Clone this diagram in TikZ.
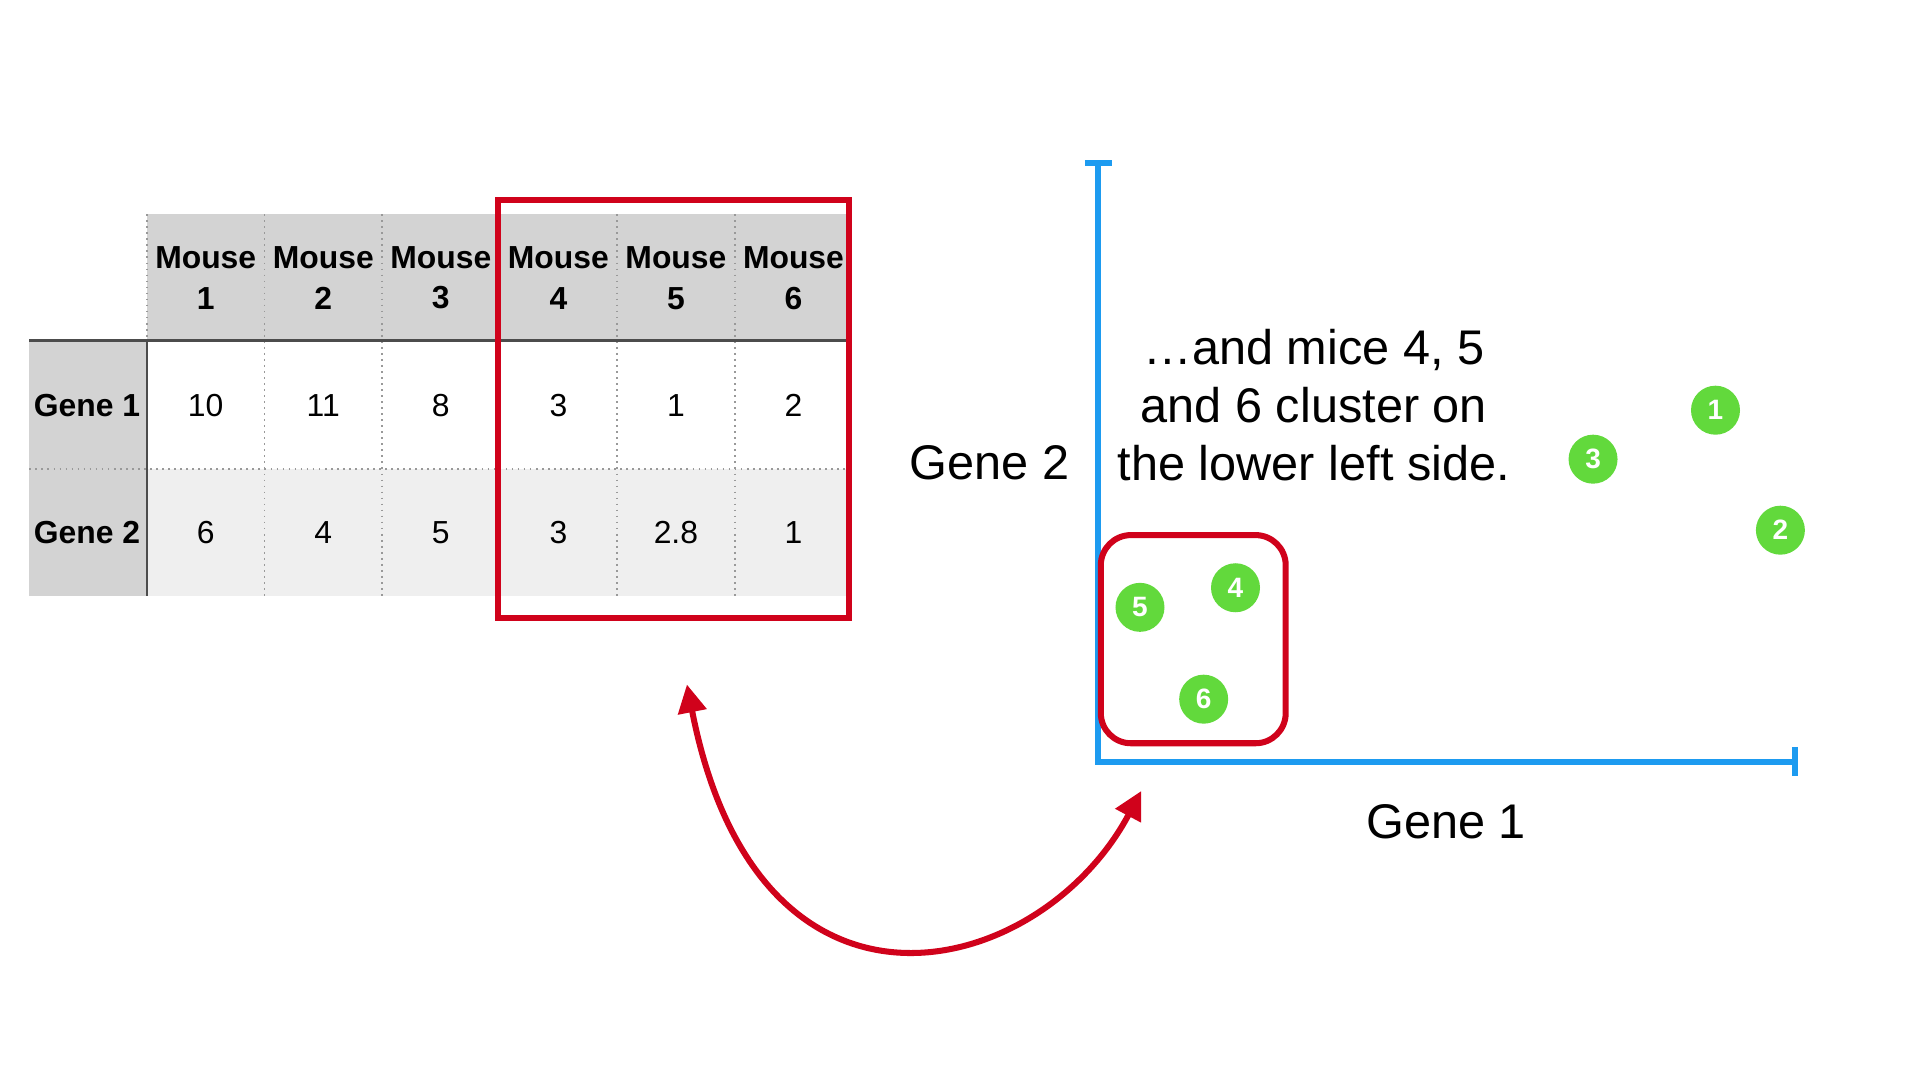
\documentclass[tikz,border=0pt]{standalone}
\usepackage{fontspec}
\setmainfont{Liberation Sans}
\usetikzlibrary{arrows.meta}
\definecolor{cellgray}{RGB}{211,211,211}
\definecolor{rowgray}{RGB}{239,239,239}
\definecolor{boxred}{RGB}{208,2,27}
\definecolor{axisblue}{RGB}{29,155,240}
\definecolor{dotgreen}{RGB}{98,217,60}
\begin{document}
\begin{tikzpicture}[x=0.01cm, y=-0.01cm,
  head/.style={font=\fontsize{7.4}{9.4}\selectfont\bfseries, align=center, inner sep=0pt},
  rowname/.style={font=\fontsize{7.4}{9}\selectfont\bfseries, inner sep=0pt},
  cell/.style={font=\fontsize{7.4}{9}\selectfont, inner sep=0pt},
  cellline/.style={gray!80, line width=0.4pt, densely dotted},
  rule/.style={black!70, line width=0.6pt},
  redbox/.style={boxred, line width=1.4pt},
  axis/.style={axisblue, line width=1.4pt},
  note/.style={font=\fontsize{11.3}{13.4}\selectfont, align=center, inner sep=0pt},
  mousedot/.style={circle, fill=dotgreen, minimum size=0.4cm, inner sep=0pt, text=white, font=\fontsize{6.5}{7}\selectfont\bfseries},
  linkarrow/.style={boxred, line width=1.4pt, {Triangle[length=6.5pt,width=6.5pt]}-{Triangle[length=6.5pt,width=6.5pt]}}
]
\useasboundingbox (0,0) rectangle (1568,882);

% Table of expression values
\fill[cellgray] (120,175) rectangle (692,278);
\fill[cellgray] (24,278) rectangle (120,487);
\fill[rowgray] (120,383) rectangle (692,487);
\draw[cellline] (120,175) -- (120,278);
\draw[cellline] (216,175) -- (216,487);
\draw[cellline] (312,175) -- (312,487);
\draw[cellline] (408,175) -- (408,487);
\draw[cellline] (504,175) -- (504,487);
\draw[cellline] (600,175) -- (600,487);
\draw[cellline] (24,383) -- (692,383);
\draw[rule] (24,278) -- (692,278);
\draw[rule] (120,278) -- (120,487);

\node[head] (m1) at (168,227) {Mouse\\1};
\node[head] (m2) at (264,227) {Mouse\\2};
\node[head] (m3) at (360,227) {Mouse\\3};
\node[head] (m4) at (456,227) {Mouse\\4};
\node[head] (m5) at (552,227) {Mouse\\5};
\node[head] (m6) at (648,227) {Mouse\\6};

\node[rowname] (g1) at (71,331) {Gene 1};
\node[cell] (v11) at (168,331) {10};
\node[cell] (v12) at (264,331) {11};
\node[cell] (v13) at (360,331) {8};
\node[cell] (v14) at (456,331) {3};
\node[cell] (v15) at (552,331) {1};
\node[cell] (v16) at (648,331) {2};

\node[rowname] (g2) at (71,435) {Gene 2};
\node[cell] (v21) at (168,435) {6};
\node[cell] (v22) at (264,435) {4};
\node[cell] (v23) at (360,435) {5};
\node[cell] (v24) at (456,435) {3};
\node[cell] (v25) at (552,435) {2.8};
\node[cell] (v26) at (648,435) {1};

\draw[redbox] (407,163) rectangle (693,505);

% Plot of the two genes
\coordinate (ytop) at (897,133);
\coordinate (origin) at (897,622);
\coordinate (xend) at (1466,622);
\draw[axis] (ytop) -- (origin) -- (xend);
\draw[axis] (886,133) -- (908,133);
\draw[axis] (1466,610) -- (1466,634);

\node[note] (ylab) at (808,378) {Gene 2};
\node[note] (xlab) at (1181,671) {Gene 1};
\node[note] (txt) at (1073,331) {…and mice 4, 5\\and 6 cluster on\\the lower left side.};

\draw[redbox, rounded corners=7pt] (899,437) rectangle (1050,607);

\node[mousedot] (p1) at (1401,335) {1};
\node[mousedot] (p2) at (1454,433) {2};
\node[mousedot] (p3) at (1301,375) {3};
\node[mousedot] (p4) at (1009,480) {4};
\node[mousedot] (p5) at (931,496) {5};
\node[mousedot] (p6) at (983,571) {6};

% Link between the table and the cluster
\coordinate (tabend) at (561,559);
\coordinate (plotend) at (932,646);
\draw[linkarrow] (tabend) .. controls (620,860) and (850,800) .. (plotend);
\end{tikzpicture}
\end{document}
